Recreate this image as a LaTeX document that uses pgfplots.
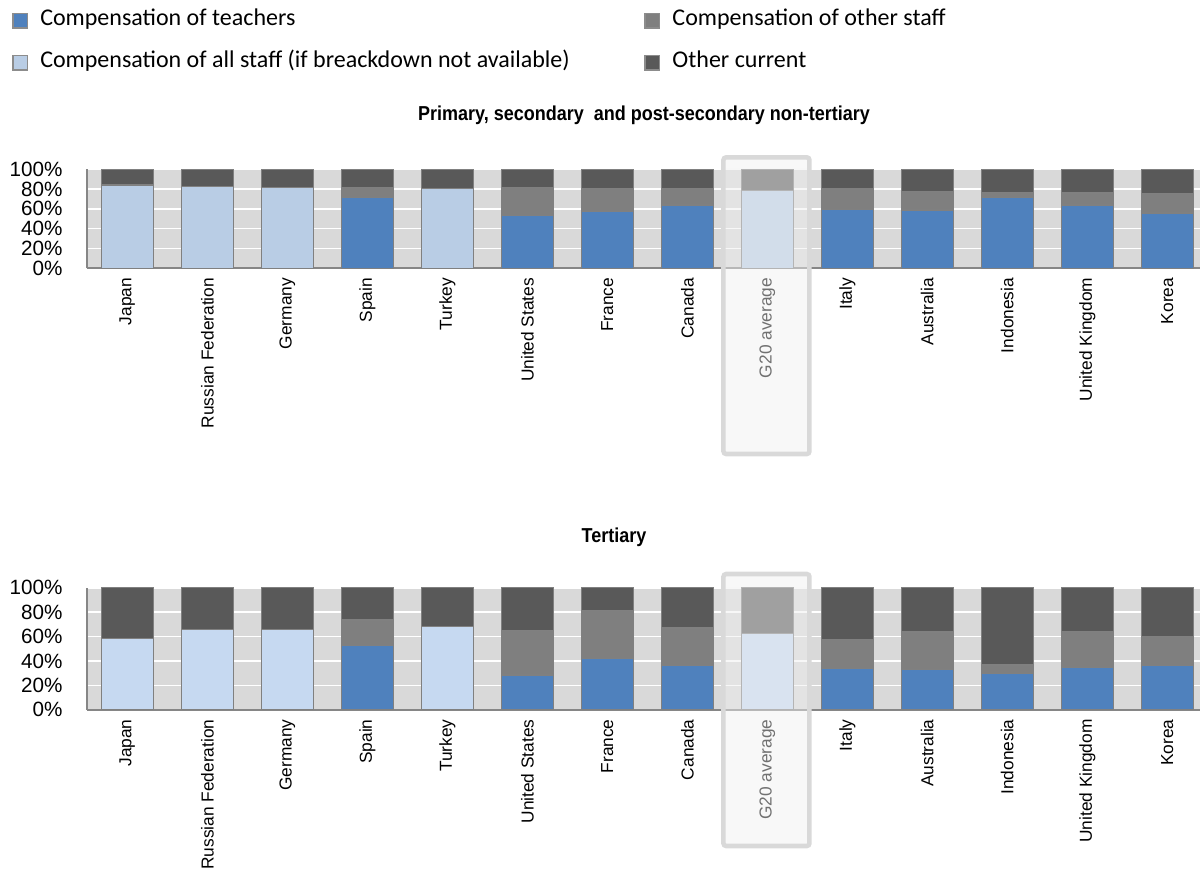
\documentclass[border=0pt]{standalone}
\usepackage{fontspec}
\setmainfont{Liberation Sans}
\newfontfamily\legendfont{Carlito}
\usepackage{pgfplots}
\usepackage{pgfplotstable}
\pgfplotsset{compat=1.18}

\definecolor{teach}{HTML}{4F81BD}
\definecolor{allstaffA}{HTML}{B9CDE5}
\definecolor{allstaffB}{HTML}{C6D9F1}
\definecolor{otherstaff}{HTML}{7F7F7F}
\definecolor{othercur}{HTML}{595959}
\definecolor{plotbg}{HTML}{D9D9D9}
\definecolor{bargrey}{HTML}{808080}
\definecolor{axisgrey}{HTML}{868686}
\definecolor{legendgrey}{HTML}{8C8C8C}
\definecolor{boxline}{HTML}{D9D9D9}
\definecolor{boxfill}{HTML}{F0F0F0}

% Shares of current expenditure (%), stacked: teachers, other staff, all staff, other current
\pgfplotstableread{
x teach other all cur
0  0    0    84.2 15.8
1  0    0    82.5 17.5
2  0    0    81.5 18.5
3  71.4 10.4 0    18.2
4  0    0    80.5 19.5
5  53.2 28.6 0    18.2
6  57.2 23.6 0    19.2
7  64.0 16.8 0    19.2
8  0    0    78.5 21.5
9  59.6 20.5 0    19.9
10 58.9 18.5 0    22.6
11 71.4 5.0  0    23.6
12 64.0 12.2 0    23.8
13 56.0 19.6 0    24.4
}\primary

\pgfplotstableread{
x teach other all cur
0  0    0    58.5 41.5
1  0    0    65.9 34.1
2  0    0    65.9 34.1
3  52.5 21.0 0    26.5
4  0    0    68.1 31.9
5  28.5 36.3 0    35.2
6  41.9 39.3 0    18.8
7  36.2 30.8 0    33.0
8  0    0    62.6 37.4
9  34.0 23.4 0    42.6
10 32.9 30.8 0    36.3
11 29.6 7.1  0    63.3
12 34.5 29.5 0    36.0
13 36.2 23.7 0    40.1
}\tertiary

\pgfplotsset{
  costbars/.style={
    scale only axis,
    width=834.5pt,
    xmin=-0.5, xmax=13.409,
    ymin=0, ymax=100,
    ybar stacked,
    bar width=0.65,
    axis background/.style={fill=plotbg},
    axis x line*=bottom, axis y line*=left,
    axis line style={-, draw=axisgrey, line width=1.3pt},
    major tick length=0pt,
    xtick={0,...,13},
    xticklabels={Japan, Russian Federation, Germany, Spain, Turkey, United States, France, Canada, G20 average, Italy, Australia, Indonesia, United Kingdom, Korea},
    xticklabel style={rotate=90, anchor=east, inner sep=0pt, font=\fontsize{13}{15}\selectfont},
    xticklabel shift=7pt,
    ytick={0,20,...,100},
    yticklabels={0\%,20\%,40\%,60\%,80\%,100\%},
    yticklabel style={anchor=east, inner sep=0pt, font=\fontsize{15.5}{17}\selectfont},
    yticklabel shift=18.5pt,
    ymajorgrids,
    major grid style={white, line width=1.2pt},
    every axis plot/.append style={draw=bargrey, line width=1.1pt},
  }
}

\begin{document}
\begin{tikzpicture}
\useasboundingbox (0,0) rectangle (900pt,-656.25pt);

% Primary, secondary and post-secondary non-tertiary
\begin{axis}[costbars,
  height=74.25pt,
  at={(65.5pt,-201.2pt)}, anchor=south west,
  legend columns=2,
  legend cell align=left,
  legend image code/.code={\draw[#1, draw=legendgrey, line width=1pt] (0pt,-5.5pt) rectangle (11pt,5.5pt);},
  legend style={at={(-0.0677,2.60)}, anchor=north west, draw=none, fill=none,
    font=\legendfont\fontsize{18}{20}\selectfont, inner sep=0pt, row sep=17pt,
    nodes={inner sep=0pt, text height=11pt, text depth=3.5pt},
    /tikz/every odd column/.append style={column sep=9pt},
    /tikz/every even column/.append style={column sep=56pt}},
]
\addplot[fill=teach] table[x=x, y=teach] {\primary};
\addplot[fill=otherstaff] table[x=x, y=other] {\primary};
\addplot[fill=allstaffA] table[x=x, y=all] {\primary};
\addplot[fill=othercur] table[x=x, y=cur] {\primary};
\legend{Compensation of teachers, Compensation of other staff, Compensation of all staff (if breackdown not available), Other current}
\end{axis}

% Tertiary
\begin{axis}[costbars,
  height=91.55pt,
  at={(65.5pt,-532.35pt)}, anchor=south west,
]
\addplot[fill=teach] table[x=x, y=teach] {\tertiary};
\addplot[fill=otherstaff] table[x=x, y=other] {\tertiary};
\addplot[fill=allstaffB] table[x=x, y=all] {\tertiary};
\addplot[fill=othercur] table[x=x, y=cur] {\tertiary};
\end{axis}

% Panel titles
\node[font=\bfseries\fontsize{13.5}{16}\selectfont, yscale=1.12] at (483pt,-86.25pt) {Primary, secondary~ and post-secondary non-tertiary};
\node[font=\bfseries\fontsize{13.5}{16}\selectfont, yscale=1.12] at (460.5pt,-402.75pt) {Tertiary};

% G20 average highlight frames
\draw[line width=3.4pt, draw=boxline, fill=boxfill, fill opacity=0.47, rounded corners=2pt]
  (542.6pt,-118pt) rectangle (607.1pt,-340.5pt);
\draw[line width=3.4pt, draw=boxline, fill=boxfill, fill opacity=0.47, rounded corners=2pt]
  (542.6pt,-430.5pt) rectangle (607.1pt,-634.5pt);
\end{tikzpicture}
\end{document}
